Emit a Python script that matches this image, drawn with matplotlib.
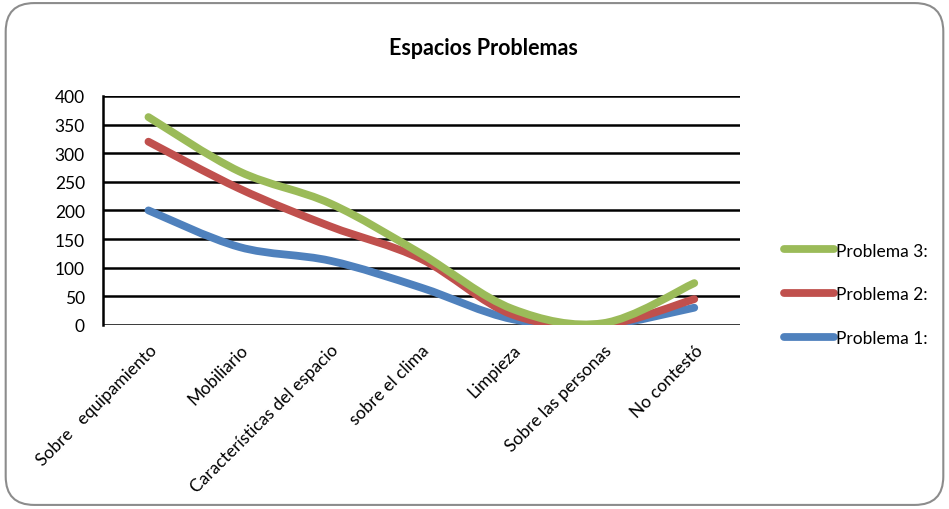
import matplotlib.pyplot as plt
import numpy as np
from matplotlib.path import Path
from matplotlib.patches import PathPatch, FancyBboxPatch
from matplotlib.lines import Line2D

plt.rcParams['font.family'] = ['Lato', 'DejaVu Sans']

categories = ["Sobre   equipamiento", "Mobiliario", "Características del espacio",
              "sobre el clima", "Limpieza", "Sobre las personas", "No contestó"]
problema1 = [200, 136, 112, 65, 10, 0, 30]
problema2 = [320, 238, 172, 115, 18, 0, 45]
problema3 = [363, 268, 212, 124, 28, 3, 73]

series = [("Problema 1:", problema1, "#4F81BD"),
          ("Problema 2:", problema2, "#C0504D"),
          ("Problema 3:", problema3, "#9BBB59")]


def smooth_path(xs, ys):
    # Excel-like smoothed line: cubic Bezier segments through the points
    pts = np.column_stack([xs, ys]).astype(float)
    n = len(pts)
    verts = [pts[0]]
    codes = [Path.MOVETO]
    for i in range(n - 1):
        p0 = pts[max(i - 1, 0)]
        p1 = pts[i]
        p2 = pts[i + 1]
        p3 = pts[min(i + 2, n - 1)]
        c1 = p1 + (p2 - p0) / 6.0
        c2 = p2 - (p3 - p1) / 6.0
        verts += [c1, c2, p2]
        codes += [Path.CURVE4] * 3
    return Path(verts, codes)


fig = plt.figure(figsize=(9.49, 5.1), dpi=100)
border = FancyBboxPatch((0.006, 0.008), 0.988, 0.984, transform=fig.transFigure,
                        boxstyle="round,pad=0,rounding_size=0.03",
                        facecolor="white", edgecolor="#8c8c8c", linewidth=1.5,
                        mutation_aspect=949 / 510, zorder=-10)
fig.patches.append(border)

ax = fig.add_axes([0.1085, 0.361, 0.671, 0.449])
ax.set_facecolor("none")
x = np.arange(len(categories))

for label, vals, color in series:
    path = smooth_path(x, vals)
    ax.add_patch(PathPatch(path, facecolor="none", edgecolor=color, linewidth=5.6,
                           capstyle="round", joinstyle="round", zorder=3))

ax.set_xlim(-0.5, len(categories) - 0.5)
ax.set_ylim(0, 400)
ax.set_yticks(range(0, 401, 50))
ax.yaxis.grid(True, color="black", linewidth=1.8)
ax.set_axisbelow(True)
for s in ["top", "right", "bottom"]:
    ax.spines[s].set_visible(False)
ax.spines["left"].set_linewidth(1.8)
ax.tick_params(axis="y", length=0, labelsize=12.5, pad=13)
ax.set_xticks(x)
ax.set_xticklabels(categories, rotation=45, ha="right", rotation_mode="anchor", fontsize=12.5)
ax.tick_params(axis="x", length=0, pad=12)

fig.text(0.509, 0.905, "Espacios Problemas", ha="center", va="center",
         fontsize=15.5, fontweight="bold")

handles = [Line2D([], [], color=c, linewidth=5.6, solid_capstyle="round")
           for _, _, c in series[::-1]]
labels = [l for l, _, _ in series[::-1]]
fig.legend(handles, labels, loc="center left", bbox_to_anchor=(0.81, 0.421),
           frameon=False, fontsize=12.5, handlelength=2.85, handletextpad=0.1,
           labelspacing=1.6)

fig.savefig("out.png", dpi=100)
